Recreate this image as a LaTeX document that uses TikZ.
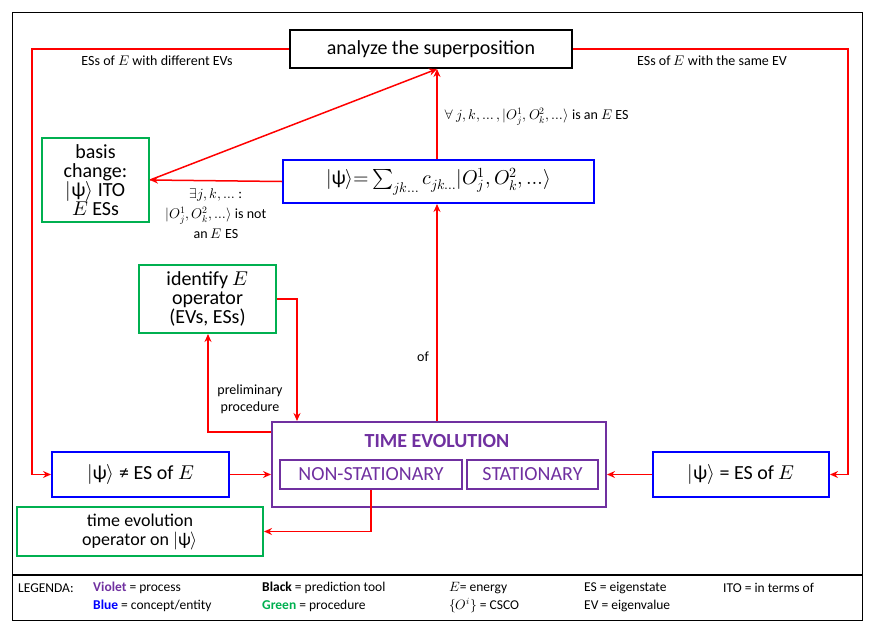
\documentclass[tikz,border=0pt]{standalone}
\usepackage{fontspec}
\usepackage{unicode-math}
\setmainfont{Carlito}
\setmathfont{Latin Modern Math}
\usetikzlibrary{arrows.meta}
\definecolor{myred}{HTML}{FF0000}
\definecolor{myblue}{HTML}{0000FF}
\definecolor{mygreen}{HTML}{00B050}
\definecolor{myviolet}{HTML}{7030A0}
\newcommand{\kpsi}{|\text{ψ}\rangle}
\begin{document}
\begin{tikzpicture}[x=1pt,y=-1pt,
  box/.style={draw,line width=2pt,inner sep=0pt,align=center},
  bl/.style={box,draw=myblue},
  gr/.style={box,draw=mygreen},
  vi/.style={box,draw=myviolet},
  arr/.style={draw=myred,line width=1.5pt,-{Stealth[length=8pt,width=7pt]}},
  lab/.style={font=\fontsize{14}{17}\selectfont,align=center,inner sep=1pt},
  big/.style={font=\fontsize{20}{20}\selectfont},
  leg/.style={font=\fontsize{13.5}{15}\selectfont,anchor=west,inner sep=0pt}]
\useasboundingbox (0,0) rectangle (877,629);
\draw[line width=1pt] (12,12) rectangle (862,620);
\draw[line width=2.5pt] (12,575) -- (862,575);
% boxes
\node[box,draw=black,minimum width=282pt,minimum height=38pt,big] (an) at (431,49) {analyze the superposition};
\node[gr,minimum width=107pt,minimum height=84pt,font=\fontsize{20}{19}\selectfont] (bc) at (95.5,180) {basis\\change:\\$\kpsi$ ITO\\$E$ ESs};
\node[bl,minimum width=311pt,minimum height=43pt,big] (ps) at (438.5,181.5) {$\kpsi{=}\sum_{jk\ldots} c_{jk\ldots}|O^1_j,O^2_k,\ldots\rangle$};
\node[gr,minimum width=137pt,minimum height=68pt,font=\fontsize{20}{19}\selectfont] (id) at (207.5,299) {identify $E$\\operator\\(EVs, ESs)};
\node[vi,minimum width=334pt,minimum height=85pt] (te) at (439,464.5) {};
\node[font=\fontsize{20}{20}\selectfont\bfseries,text=myviolet] at (437,441) {TIME EVOLUTION};
\node[vi,minimum width=182pt,minimum height=29pt,big,text=myviolet,line width=1.5pt] (ns) at (371,474.5) {NON-STATIONARY};
\node[vi,minimum width=131pt,minimum height=29pt,big,text=myviolet,line width=1.5pt] (st) at (532.5,474.5) {STATIONARY};
\node[bl,minimum width=177pt,minimum height=45pt,big] (ne) at (140.5,474.5) {$\kpsi$ ≠ ES of $E$};
\node[bl,minimum width=176pt,minimum height=45pt,big] (eq) at (741,474.5) {$\kpsi$ = ES of $E$};
\node[gr,minimum width=246pt,minimum height=49pt,font=\fontsize{18}{19}\selectfont] (to) at (140,531.5) {time evolution\\operator on $\kpsi$};
% connectors
\coordinate (l1) at (32,49); \coordinate (l2) at (32,474.5);
\coordinate (r1) at (848,49); \coordinate (r2) at (848,474.5);
\draw[arr] (an.west) -- (l1) -- (l2) -- (ne.west);
\draw[arr] (an.east) -- (r1) -- (r2) -- (eq.east);
\node[lab] at (157,61) {ESs of $E$ with different EVs};
\node[lab] at (712,61) {ESs of $E$ with the same EV};
\draw[arr] (ne.east) -- (te.west|-ne.east);
\draw[arr] (eq.west) -- (te.east|-eq.west);
\draw[arr] (te.north-|ps.south) ++(-1.5,0) coordinate (tt) -- (tt|-ps.south);
\node[lab] at (423,357) {of};
\draw[arr] (ps.north) ++(-1.5,0) coordinate (pt) -- (pt|-an.south);
\node[lab,anchor=west] at (443,117) {$\forall\ j,k,\ldots,|O^1_j,O^2_k,\ldots\rangle$ is an $E$ ES};
\draw[arr] (ps.west) -- (bc.east);
\node[lab,font=\fontsize{14}{20}\selectfont] at (216,214) {$\exists j,k,\ldots$ :\\$|O^1_j,O^2_k,\ldots\rangle$ is not\\an $E$ ES};
\draw[arr] (bc.east) -- (437,69);
\coordinate (p1) at (208,432);
\draw[arr] (te.west|-p1) -- (p1) -- (id.south-|p1);
\coordinate (p2) at (297,299);
\draw[arr] (id.east) -- (p2) -- (p2|-te.north);
\node[lab] at (250,399) {preliminary\\procedure};
\coordinate (n1) at (371,531.5);
\draw[arr] (ns.south) -- (n1) -- (to.east);
% legend
\node[leg] at (18,588) {LEGENDA:};
\node[leg] at (93,588) {\textbf{\color{myviolet}Violet} = process};
\node[leg] at (93,606) {\textbf{\color{myblue}Blue} = concept/entity};
\node[leg] at (262,588) {\textbf{Black} = prediction tool};
\node[leg] at (262,606) {\textbf{\color{mygreen}Green} = procedure};
\node[leg] at (449,588) {$E$= energy};
\node[leg] at (449,606) {$\{O^i\}$ = CSCO};
\node[leg] at (584,588) {ES = eigenstate};
\node[leg] at (584,606) {EV = eigenvalue};
\node[leg] at (723,588) {ITO = in terms of};
\end{tikzpicture}
\end{document}
